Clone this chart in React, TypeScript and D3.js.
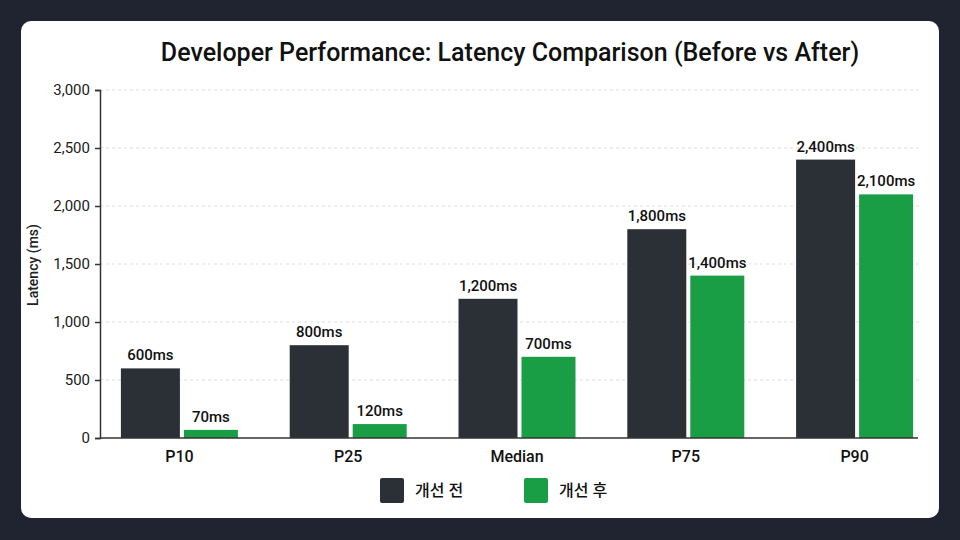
import React, { useEffect, useRef } from "react";
import * as d3 from "d3";

// Latency percentiles before and after the optimisation
const categories = ["P10", "P25", "Median", "P75", "P90"];
const beforeValues = [600, 800, 1200, 1800, 2400];
const afterValues = [70, 120, 700, 1400, 2100];
const seriesNames = ["개선 전", "개선 후"];
const yTicks = [0, 500, 1000, 1500, 2000, 2500, 3000];

const W = 960;
const H = 540;
const FONT = "Roboto, 'Noto Sans CJK KR', 'Noto Sans', sans-serif";
const COLORS = ["#2b2f36", "#1a9e45"];

export default function App() {
  const ref = useRef<SVGSVGElement | null>(null);

  useEffect(() => {
    const svg = d3.select(ref.current);
    svg.selectAll("*").remove();

    // page background and card
    svg.append("rect").attr("width", W).attr("height", H).attr("fill", "#1f2430");
    svg
      .append("rect")
      .attr("x", 21)
      .attr("y", 21)
      .attr("width", 918)
      .attr("height", 497)
      .attr("rx", 10)
      .attr("fill", "#ffffff");

    svg
      .append("text")
      .attr("x", 510)
      .attr("y", 61)
      .attr("text-anchor", "middle")
      .attr("font-family", FONT)
      .attr("font-size", 25)
      .attr("font-weight", 500)
      .attr("fill", "#111")
      .text("Developer Performance: Latency Comparison (Before vs After)");

    const axisLeftX = 100;
    const axisRightX = 918;
    const y = d3.scaleLinear().domain([0, 3000]).range([438, 90]);
    const x = d3.scaleBand<string>().domain(categories).range([95, 939]).padding(0);

    // grid
    const grid = svg.append("g");
    grid
      .selectAll("line")
      .data(yTicks.filter((t) => t > 0))
      .join("line")
      .attr("x1", axisLeftX)
      .attr("x2", axisRightX + 2)
      .attr("y1", (d) => y(d))
      .attr("y2", (d) => y(d))
      .attr("stroke", "#dcdcdc")
      .attr("stroke-width", 1)
      .attr("stroke-dasharray", "3,3");

    // y axis
    const yAxis = svg
      .append("g")
      .attr("transform", `translate(${axisLeftX},0)`)
      .call(
        d3
          .axisLeft(y)
          .tickValues(yTicks)
          .tickSize(5)
          .tickPadding(5)
          .tickFormat((d) => d3.format(",")(d as number))
      );
    yAxis.select(".domain").attr("stroke", "#333").attr("stroke-width", 1.5);
    yAxis.selectAll(".tick line").attr("stroke", "#333").attr("stroke-width", 1.5);
    yAxis
      .selectAll(".tick text")
      .attr("font-family", FONT)
      .attr("font-size", 15)
      .attr("font-weight", 400)
      .attr("fill", "#1a1a1a");

    svg
      .append("text")
      .attr("transform", `translate(38,265) rotate(-90)`)
      .attr("text-anchor", "middle")
      .attr("font-family", FONT)
      .attr("font-size", 14)
      .attr("font-weight", 500)
      .attr("fill", "#222")
      .text("Latency (ms)");

    // bars
    const darkW = 59;
    const greenW = 54;
    const gap = 4;
    const groupW = darkW + gap + greenW;
    const series = [beforeValues, afterValues];
    const barG = svg.append("g");
    categories.forEach((cat, i) => {
      const c = (x(cat) as number) + x.bandwidth() / 2;
      const left = c - groupW / 2;
      series.forEach((vals, s) => {
        const bx = s === 0 ? left : left + darkW + gap;
        const bw = s === 0 ? darkW : greenW;
        const v = vals[i];
        barG
          .append("rect")
          .attr("x", bx)
          .attr("y", y(v))
          .attr("width", bw)
          .attr("height", y(0) - y(v))
          .attr("fill", COLORS[s]);
        barG
          .append("text")
          .attr("x", bx + bw / 2)
          .attr("y", y(v) - 8)
          .attr("text-anchor", "middle")
          .attr("font-family", FONT)
          .attr("font-size", 15)
          .attr("font-weight", 500)
          .attr("fill", "#111")
          .text(`${d3.format(",")(v)}ms`);
      });
      svg
        .append("text")
        .attr("x", c)
        .attr("y", 462)
        .attr("text-anchor", "middle")
        .attr("font-family", FONT)
        .attr("font-size", 16)
        .attr("font-weight", 500)
        .attr("fill", "#111")
        .text(cat);
    });

    // x axis line
    svg
      .append("line")
      .attr("x1", axisLeftX)
      .attr("x2", axisRightX)
      .attr("y1", y(0))
      .attr("y2", y(0))
      .attr("stroke", "#333")
      .attr("stroke-width", 1.5);

    // legend
    const legendX = [380, 524];
    seriesNames.forEach((name, s) => {
      const g = svg.append("g").attr("transform", `translate(${legendX[s]},478)`);
      g.append("rect").attr("width", 24).attr("height", 25).attr("rx", 2).attr("fill", COLORS[s]);
      g.append("text")
        .attr("x", 35)
        .attr("y", 18)
        .attr("font-family", FONT)
        .attr("font-size", 16)
        .attr("font-weight", 500)
        .attr("fill", "#111")
        .text(name);
    });
  }, []);

  return (
    <svg
      ref={ref}
      width={W}
      height={H}
      style={{ position: "fixed", left: 0, top: 0, display: "block" }}
    />
  );
}
